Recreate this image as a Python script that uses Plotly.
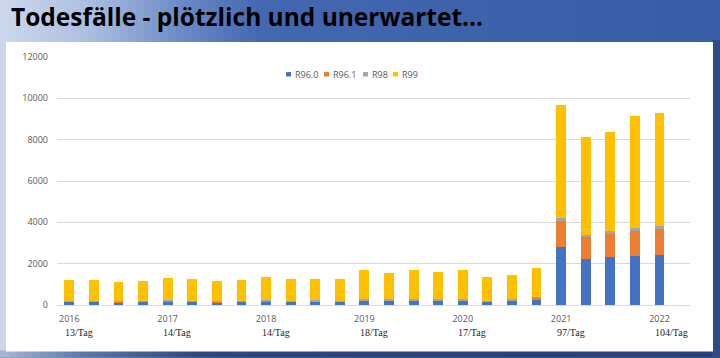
import plotly.graph_objects as go

# ---------------- data ----------------
quarters = [f"{y}-Q{q}" for y in range(2016, 2022) for q in range(1, 5)] + ["2022-Q1"]
series_names = ["R96.0", "R96.1", "R98", "R99"]
r96_0 = [150, 160, 140, 150, 190, 150, 140, 150, 190, 150, 170, 160, 210, 210, 220, 210, 210, 150, 200, 230,
         2795, 2215, 2315, 2360, 2440]
r96_1 = [15, 15, 15, 15, 20, 15, 15, 15, 20, 15, 15, 15, 20, 20, 20, 20, 25, 25, 30, 110,
         1255, 1065, 1125, 1205, 1240]
r98 = [40, 40, 35, 35, 40, 40, 35, 35, 40, 40, 40, 40, 45, 45, 45, 45, 45, 40, 45, 50,
       160, 110, 125, 165, 130]
r99 = [995, 985, 900, 940, 1080, 1045, 995, 990, 1095, 1030, 1055, 1065, 1395, 1250, 1415, 1345, 1390, 1130, 1200, 1410,
       5460, 4755, 4785, 5425, 5475]
year_tick_cats = ["2016-Q1", "2017-Q1", "2018-Q1", "2019-Q1", "2020-Q1", "2021-Q1", "2022-Q1"]
year_tick_text = ["2016", "2017", "2018", "2019", "2020", "2021", "2022"]
per_day_labels = ["13/Tag", "14/Tag", "14/Tag", "18/Tag", "17/Tag", "97/Tag", "104/Tag"]
y_ticks = [0, 2000, 4000, 6000, 8000, 10000, 12000]
y_tick_text = ["0", "2000", "4000", "6000", "8000", "10000", "12000"]
title_text = "Todesfälle - plötzlich und unerwartet..."

# ---------------- style ----------------
colors = ["#4472C4", "#ED7D31", "#A5A5A5", "#FFC000"]
W, H = 720, 358
ML, MR, MT, MB = 57, 30, 57, 52.5
PW, PH = W - ML - MR, H - MT - MB
FONT = "Open Sans"


def px2x(px):
    return (px - ML) / PW


def px2y(py):
    return ((H - MB) - py) / PH


def lerp_color(stops, v):
    for (a, ca), (b, cb) in zip(stops, stops[1:]):
        if a <= v <= b:
            t = (v - a) / (b - a) if b > a else 0
            c = [round(ca[i] + (cb[i] - ca[i]) * t) for i in range(3)]
            return f"rgb({c[0]},{c[1]},{c[2]})"
    c = stops[-1][1]
    return f"rgb({c[0]},{c[1]},{c[2]})"


fig = go.Figure()
for name, vals, col in zip(series_names, [r96_0, r96_1, r98, r99], colors):
    fig.add_trace(go.Bar(x=quarters, y=vals, name=name, marker=dict(color=col, line=dict(width=0))))

shapes = []
# background gradient
bg_stops = [(0, (206, 216, 236)), (90, (172, 190, 224)), (180, (108, 139, 199)),
            (260, (68, 103, 177)), (720, (56, 92, 166))]
step = 8
for x0 in range(0, W, step):
    shapes.append(dict(type="rect", xref="paper", yref="paper", layer="below",
                       x0=px2x(x0), x1=px2x(x0 + step + 0.5), y0=px2y(H), y1=px2y(0),
                       fillcolor=lerp_color(bg_stops, x0 + step / 2), line=dict(width=0)))
# darker bottom band and right band
bot_stops = [(0, (170, 184, 214)), (80, (95, 120, 170)), (200, (45, 70, 125)), (720, (40, 64, 118))]
for x0 in range(0, W, step):
    shapes.append(dict(type="rect", xref="paper", yref="paper", layer="below",
                       x0=px2x(x0), x1=px2x(x0 + step + 0.5), y0=px2y(H), y1=px2y(351),
                       fillcolor=lerp_color(bot_stops, x0 + step / 2), line=dict(width=0)))
shapes.append(dict(type="rect", xref="paper", yref="paper", layer="below",
                   x0=px2x(712), x1=px2x(W), y0=px2y(H), y1=px2y(40),
                   fillcolor="rgb(46,74,136)", line=dict(width=0)))
# white chart panel
shapes.append(dict(type="rect", xref="paper", yref="paper", layer="below",
                   x0=px2x(6), x1=px2x(713), y0=px2y(352), y1=px2y(42),
                   fillcolor="white", line=dict(width=0)))

annotations = []
# title
annotations.append(dict(text=f"<b>{title_text}</b>", xref="paper", yref="paper",
                        x=px2x(9), y=px2y(16), xanchor="left", yanchor="middle", showarrow=False,
                        font=dict(family="Open Sans", size=24.5, color="#000000")))
# custom legend
legend_px = [286, 324, 363, 393]
legend_y = 74.3
for name, col, lx in zip(series_names, colors, legend_px):
    shapes.append(dict(type="rect", xref="paper", yref="paper",
                       x0=px2x(lx), x1=px2x(lx + 5), y0=px2y(legend_y + 2.2), y1=px2y(legend_y - 2.2),
                       fillcolor=col, line=dict(width=0)))
    annotations.append(dict(text=name, xref="paper", yref="paper", x=px2x(lx + 7), y=px2y(legend_y),
                            xanchor="left", yanchor="middle", showarrow=False,
                            font=dict(family=FONT, size=9, color="#595959")))
# per-day labels
for cat, lab in zip(year_tick_cats, per_day_labels):
    annotations.append(dict(text=lab, x=cat, xref="x", yref="paper", y=px2y(333),
                            xanchor="left", yanchor="middle", xshift=-6.5, showarrow=False,
                            font=dict(family="Liberation Serif", size=10, color="#262626")))

fig.update_layout(
    width=W, height=H,
    margin=dict(l=ML, r=MR, t=MT, b=MB, pad=0),
    paper_bgcolor="rgb(56,92,166)",
    plot_bgcolor="rgba(0,0,0,0)",
    barmode="stack",
    bargap=0.6,
    showlegend=False,
    shapes=shapes,
    annotations=annotations,
    xaxis=dict(
        categoryorder="array", categoryarray=quarters,
        tickmode="array", tickvals=year_tick_cats, ticktext=year_tick_text,
        showgrid=False, showline=False, ticks="",
        ticklabelstandoff=7,
        tickfont=dict(family=FONT, size=9, color="#595959"),
    ),
    yaxis=dict(
        range=[0, 12000], tickmode="array", tickvals=y_ticks, ticktext=y_tick_text,
        showgrid=True, gridcolor="#d9d9d9", gridwidth=1,
        zeroline=True, zerolinecolor="#d9d9d9", zerolinewidth=1,
        showline=False, ticks="", ticklabelstandoff=8,
        tickfont=dict(family=FONT, size=9, color="#595959"),
    ),
)

fig.write_html("out.html", config={"displayModeBar": False},
               post_script="document.body.style.margin='0';")
